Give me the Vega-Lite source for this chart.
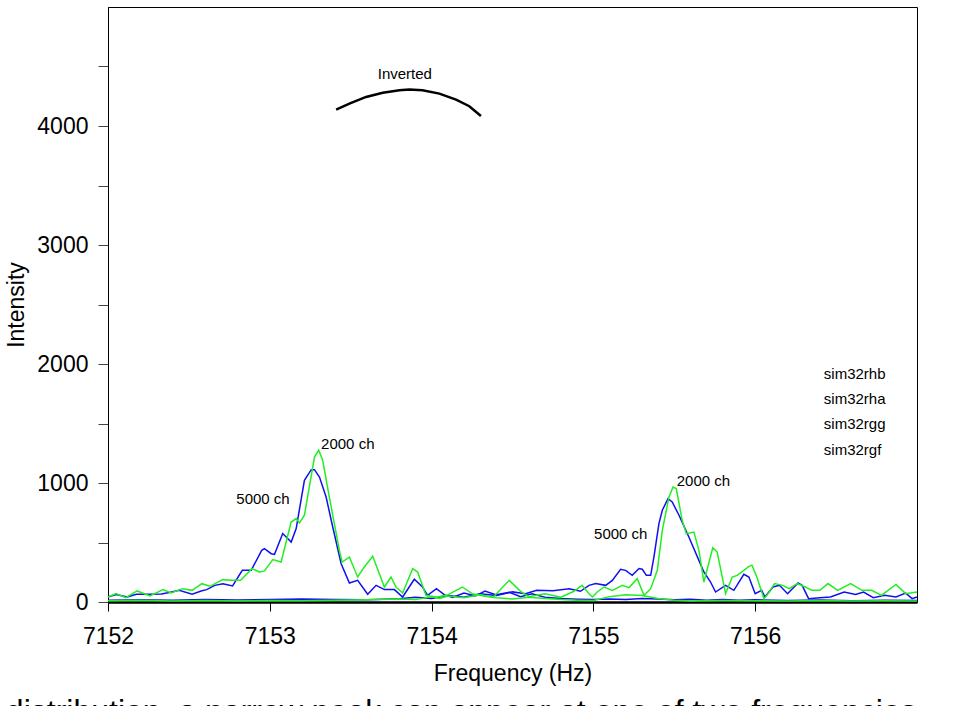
{
  "$schema": "https://vega.github.io/schema/vega-lite/v6.json",
  "width": 809,
  "height": 595,
  "autosize": {"type": "none"},
  "padding": {"left": 108, "top": 7, "right": 50, "bottom": 104},
  "background": "white",
  "config": {"font": "Liberation Sans", "view": {"stroke": "black", "strokeWidth": 1}},
  "title": {"text": "distribution, a narrow peak can appear at one of two frequencies", "orient": "bottom", "anchor": "start", "frame": "bounds", "fontSize": 32, "fontWeight": "normal", "color": "black", "offset": 12, "font": "Liberation Sans"},
  "datasets": {
    "spec": [
      {"s":"sim32rhb","f":7152.00,"v":42},{"s":"sim32rhb","f":7152.05,"v":62},{"s":"sim32rhb","f":7152.12,"v":42},{"s":"sim32rhb","f":7152.175,"v":65},{"s":"sim32rhb","f":7152.25,"v":66},{"s":"sim32rhb","f":7152.33,"v":68},{"s":"sim32rhb","f":7152.38,"v":80},{"s":"sim32rhb","f":7152.44,"v":98},{"s":"sim32rhb","f":7152.52,"v":66},{"s":"sim32rhb","f":7152.58,"v":95},{"s":"sim32rhb","f":7152.61,"v":104},{"s":"sim32rhb","f":7152.66,"v":140},{"s":"sim32rhb","f":7152.71,"v":154},{"s":"sim32rhb","f":7152.77,"v":135},{"s":"sim32rhb","f":7152.83,"v":266},{"s":"sim32rhb","f":7152.885,"v":266},{"s":"sim32rhb","f":7152.95,"v":434},{"s":"sim32rhb","f":7152.967,"v":448},{"s":"sim32rhb","f":7153.009,"v":406},{"s":"sim32rhb","f":7153.029,"v":400},{"s":"sim32rhb","f":7153.08,"v":575},{"s":"sim32rhb","f":7153.132,"v":504},{"s":"sim32rhb","f":7153.163,"v":617},{"s":"sim32rhb","f":7153.214,"v":1023},{"s":"sim32rhb","f":7153.256,"v":1112},{"s":"sim32rhb","f":7153.276,"v":1112},{"s":"sim32rhb","f":7153.307,"v":1050},{"s":"sim32rhb","f":7153.348,"v":882},{"s":"sim32rhb","f":7153.389,"v":630},{"s":"sim32rhb","f":7153.441,"v":322},{"s":"sim32rhb","f":7153.492,"v":160},{"s":"sim32rhb","f":7153.543,"v":182},{"s":"sim32rhb","f":7153.605,"v":65},{"s":"sim32rhb","f":7153.657,"v":140},{"s":"sim32rhb","f":7153.708,"v":104},{"s":"sim32rhb","f":7153.77,"v":104},{"s":"sim32rhb","f":7153.821,"v":42},{"s":"sim32rhb","f":7153.893,"v":191},{"s":"sim32rhb","f":7153.944,"v":126},{"s":"sim32rhb","f":7153.975,"v":56},{"s":"sim32rhb","f":7154.03,"v":112},{"s":"sim32rhb","f":7154.08,"v":60},{"s":"sim32rhb","f":7154.13,"v":38},{"s":"sim32rhb","f":7154.2,"v":75},{"s":"sim32rhb","f":7154.27,"v":50},{"s":"sim32rhb","f":7154.33,"v":92},{"s":"sim32rhb","f":7154.4,"v":60},{"s":"sim32rhb","f":7154.48,"v":82},{"s":"sim32rhb","f":7154.55,"v":45},{"s":"sim32rhb","f":7154.62,"v":70},{"s":"sim32rhb","f":7154.7,"v":40},{"s":"sim32rhb","f":7154.8,"v":30},{"s":"sim32rhb","f":7154.9,"v":24},{"s":"sim32rhb","f":7155.0,"v":20},{"s":"sim32rhb","f":7155.1,"v":26},{"s":"sim32rhb","f":7155.2,"v":22},{"s":"sim32rhb","f":7155.3,"v":30},{"s":"sim32rhb","f":7155.4,"v":25},{"s":"sim32rhb","f":7155.5,"v":18},{"s":"sim32rhb","f":7155.6,"v":24},{"s":"sim32rhb","f":7155.7,"v":15},{"s":"sim32rhb","f":7155.8,"v":20},{"s":"sim32rhb","f":7155.9,"v":14},{"s":"sim32rhb","f":7156.0,"v":18},{"s":"sim32rhb","f":7156.2,"v":12},{"s":"sim32rhb","f":7156.4,"v":16},{"s":"sim32rhb","f":7156.6,"v":10},{"s":"sim32rhb","f":7156.8,"v":14},{"s":"sim32rhb","f":7157.0,"v":12},

      {"s":"sim32rha","f":7152.0,"v":15},{"s":"sim32rha","f":7152.2,"v":18},{"s":"sim32rha","f":7152.4,"v":14},{"s":"sim32rha","f":7152.6,"v":20},{"s":"sim32rha","f":7152.8,"v":16},{"s":"sim32rha","f":7153.0,"v":22},{"s":"sim32rha","f":7153.2,"v":25},{"s":"sim32rha","f":7153.4,"v":20},{"s":"sim32rha","f":7153.6,"v":18},{"s":"sim32rha","f":7153.8,"v":28},{"s":"sim32rha","f":7153.9,"v":40},{"s":"sim32rha","f":7154.0,"v":30},{"s":"sim32rha","f":7154.1,"v":55},{"s":"sim32rha","f":7154.2,"v":40},{"s":"sim32rha","f":7154.3,"v":70},{"s":"sim32rha","f":7154.4,"v":55},{"s":"sim32rha","f":7154.5,"v":85},{"s":"sim32rha","f":7154.58,"v":70},{"s":"sim32rha","f":7154.65,"v":98},{"s":"sim32rha","f":7154.75,"v":95},{"s":"sim32rha","f":7154.85,"v":112},{"s":"sim32rha","f":7154.92,"v":90},{"s":"sim32rha","f":7154.973,"v":140},{"s":"sim32rha","f":7155.014,"v":155},{"s":"sim32rha","f":7155.076,"v":140},{"s":"sim32rha","f":7155.117,"v":182},{"s":"sim32rha","f":7155.168,"v":275},{"s":"sim32rha","f":7155.199,"v":266},{"s":"sim32rha","f":7155.24,"v":224},{"s":"sim32rha","f":7155.282,"v":281},{"s":"sim32rha","f":7155.302,"v":275},{"s":"sim32rha","f":7155.327,"v":224},{"s":"sim32rha","f":7155.354,"v":224},{"s":"sim32rha","f":7155.374,"v":378},{"s":"sim32rha","f":7155.405,"v":659},{"s":"sim32rha","f":7155.426,"v":771},{"s":"sim32rha","f":7155.461,"v":869},{"s":"sim32rha","f":7155.487,"v":841},{"s":"sim32rha","f":7155.529,"v":729},{"s":"sim32rha","f":7155.59,"v":546},{"s":"sim32rha","f":7155.652,"v":350},{"s":"sim32rha","f":7155.683,"v":252},{"s":"sim32rha","f":7155.724,"v":168},{"s":"sim32rha","f":7155.755,"v":84},{"s":"sim32rha","f":7155.817,"v":140},{"s":"sim32rha","f":7155.868,"v":98},{"s":"sim32rha","f":7155.93,"v":233},{"s":"sim32rha","f":7155.961,"v":210},{"s":"sim32rha","f":7156.0,"v":70},{"s":"sim32rha","f":7156.04,"v":98},{"s":"sim32rha","f":7156.06,"v":42},{"s":"sim32rha","f":7156.11,"v":126},{"s":"sim32rha","f":7156.15,"v":140},{"s":"sim32rha","f":7156.2,"v":70},{"s":"sim32rha","f":7156.265,"v":160},{"s":"sim32rha","f":7156.29,"v":140},{"s":"sim32rha","f":7156.33,"v":28},{"s":"sim32rha","f":7156.4,"v":36},{"s":"sim32rha","f":7156.465,"v":42},{"s":"sim32rha","f":7156.55,"v":84},{"s":"sim32rha","f":7156.62,"v":64},{"s":"sim32rha","f":7156.67,"v":84},{"s":"sim32rha","f":7156.73,"v":36},{"s":"sim32rha","f":7156.8,"v":56},{"s":"sim32rha","f":7156.87,"v":42},{"s":"sim32rha","f":7156.93,"v":75},{"s":"sim32rha","f":7156.97,"v":28},{"s":"sim32rha","f":7157.0,"v":42},

      {"s":"sim32rgg","f":7152.0,"v":42},{"s":"sim32rgg","f":7152.05,"v":70},{"s":"sim32rgg","f":7152.11,"v":37},{"s":"sim32rgg","f":7152.18,"v":93},{"s":"sim32rgg","f":7152.26,"v":51},{"s":"sim32rgg","f":7152.34,"v":104},{"s":"sim32rgg","f":7152.39,"v":76},{"s":"sim32rgg","f":7152.46,"v":112},{"s":"sim32rgg","f":7152.52,"v":98},{"s":"sim32rgg","f":7152.58,"v":154},{"s":"sim32rgg","f":7152.63,"v":132},{"s":"sim32rgg","f":7152.71,"v":188},{"s":"sim32rgg","f":7152.76,"v":182},{"s":"sim32rgg","f":7152.82,"v":182},{"s":"sim32rgg","f":7152.89,"v":280},{"s":"sim32rgg","f":7152.936,"v":252},{"s":"sim32rgg","f":7152.967,"v":261},{"s":"sim32rgg","f":7153.019,"v":356},{"s":"sim32rgg","f":7153.07,"v":336},{"s":"sim32rgg","f":7153.132,"v":672},{"s":"sim32rgg","f":7153.163,"v":701},{"s":"sim32rgg","f":7153.183,"v":664},{"s":"sim32rgg","f":7153.214,"v":729},{"s":"sim32rgg","f":7153.276,"v":1218},{"s":"sim32rgg","f":7153.302,"v":1275},{"s":"sim32rgg","f":7153.327,"v":1191},{"s":"sim32rgg","f":7153.368,"v":882},{"s":"sim32rgg","f":7153.43,"v":434},{"s":"sim32rgg","f":7153.447,"v":336},{"s":"sim32rgg","f":7153.492,"v":378},{"s":"sim32rgg","f":7153.543,"v":210},{"s":"sim32rgg","f":7153.584,"v":294},{"s":"sim32rgg","f":7153.636,"v":384},{"s":"sim32rgg","f":7153.677,"v":238},{"s":"sim32rgg","f":7153.708,"v":126},{"s":"sim32rgg","f":7153.749,"v":210},{"s":"sim32rgg","f":7153.78,"v":126},{"s":"sim32rgg","f":7153.821,"v":76},{"s":"sim32rgg","f":7153.883,"v":280},{"s":"sim32rgg","f":7153.914,"v":252},{"s":"sim32rgg","f":7153.965,"v":56},{"s":"sim32rgg","f":7154.03,"v":40},{"s":"sim32rgg","f":7154.1,"v":60},{"s":"sim32rgg","f":7154.19,"v":126},{"s":"sim32rgg","f":7154.25,"v":70},{"s":"sim32rgg","f":7154.32,"v":50},{"s":"sim32rgg","f":7154.4,"v":35},{"s":"sim32rgg","f":7154.5,"v":25},{"s":"sim32rgg","f":7154.6,"v":40},{"s":"sim32rgg","f":7154.7,"v":30},{"s":"sim32rgg","f":7154.8,"v":20},{"s":"sim32rgg","f":7154.9,"v":15},{"s":"sim32rgg","f":7155.0,"v":12},{"s":"sim32rgg","f":7155.1,"v":45},{"s":"sim32rgg","f":7155.2,"v":60},{"s":"sim32rgg","f":7155.3,"v":55},{"s":"sim32rgg","f":7155.4,"v":30},{"s":"sim32rgg","f":7155.5,"v":14},{"s":"sim32rgg","f":7155.6,"v":8},{"s":"sim32rgg","f":7155.8,"v":12},{"s":"sim32rgg","f":7156.0,"v":10},{"s":"sim32rgg","f":7156.2,"v":8},{"s":"sim32rgg","f":7156.4,"v":12},{"s":"sim32rgg","f":7156.6,"v":9},{"s":"sim32rgg","f":7156.8,"v":11},{"s":"sim32rgg","f":7157.0,"v":8},

      {"s":"sim32rgf","f":7152.0,"v":10},{"s":"sim32rgf","f":7152.2,"v":14},{"s":"sim32rgf","f":7152.4,"v":8},{"s":"sim32rgf","f":7152.6,"v":12},{"s":"sim32rgf","f":7152.8,"v":9},{"s":"sim32rgf","f":7153.0,"v":13},{"s":"sim32rgf","f":7153.2,"v":10},{"s":"sim32rgf","f":7153.4,"v":14},{"s":"sim32rgf","f":7153.6,"v":18},{"s":"sim32rgf","f":7153.8,"v":25},{"s":"sim32rgf","f":7153.9,"v":20},{"s":"sim32rgf","f":7154.0,"v":45},{"s":"sim32rgf","f":7154.05,"v":30},{"s":"sim32rgf","f":7154.1,"v":50},{"s":"sim32rgf","f":7154.2,"v":35},{"s":"sim32rgf","f":7154.3,"v":60},{"s":"sim32rgf","f":7154.38,"v":40},{"s":"sim32rgf","f":7154.48,"v":182},{"s":"sim32rgf","f":7154.55,"v":90},{"s":"sim32rgf","f":7154.6,"v":45},{"s":"sim32rgf","f":7154.7,"v":70},{"s":"sim32rgf","f":7154.8,"v":40},{"s":"sim32rgf","f":7154.88,"v":90},{"s":"sim32rgf","f":7154.93,"v":140},{"s":"sim32rgf","f":7154.973,"v":70},{"s":"sim32rgf","f":7154.994,"v":42},{"s":"sim32rgf","f":7155.024,"v":84},{"s":"sim32rgf","f":7155.066,"v":126},{"s":"sim32rgf","f":7155.117,"v":98},{"s":"sim32rgf","f":7155.179,"v":140},{"s":"sim32rgf","f":7155.22,"v":121},{"s":"sim32rgf","f":7155.271,"v":196},{"s":"sim32rgf","f":7155.313,"v":56},{"s":"sim32rgf","f":7155.354,"v":112},{"s":"sim32rgf","f":7155.395,"v":266},{"s":"sim32rgf","f":7155.426,"v":602},{"s":"sim32rgf","f":7155.467,"v":882},{"s":"sim32rgf","f":7155.492,"v":966},{"s":"sim32rgf","f":7155.512,"v":953},{"s":"sim32rgf","f":7155.549,"v":686},{"s":"sim32rgf","f":7155.574,"v":574},{"s":"sim32rgf","f":7155.621,"v":588},{"s":"sim32rgf","f":7155.652,"v":434},{"s":"sim32rgf","f":7155.683,"v":168},{"s":"sim32rgf","f":7155.738,"v":457},{"s":"sim32rgf","f":7155.765,"v":420},{"s":"sim32rgf","f":7155.817,"v":70},{"s":"sim32rgf","f":7155.858,"v":210},{"s":"sim32rgf","f":7155.889,"v":224},{"s":"sim32rgf","f":7155.93,"v":266},{"s":"sim32rgf","f":7155.961,"v":300},{"s":"sim32rgf","f":7155.98,"v":310},{"s":"sim32rgf","f":7156.01,"v":210},{"s":"sim32rgf","f":7156.054,"v":28},{"s":"sim32rgf","f":7156.08,"v":70},{"s":"sim32rgf","f":7156.12,"v":155},{"s":"sim32rgf","f":7156.17,"v":140},{"s":"sim32rgf","f":7156.21,"v":112},{"s":"sim32rgf","f":7156.26,"v":155},{"s":"sim32rgf","f":7156.31,"v":126},{"s":"sim32rgf","f":7156.35,"v":98},{"s":"sim32rgf","f":7156.4,"v":98},{"s":"sim32rgf","f":7156.45,"v":155},{"s":"sim32rgf","f":7156.51,"v":98},{"s":"sim32rgf","f":7156.59,"v":155},{"s":"sim32rgf","f":7156.66,"v":98},{"s":"sim32rgf","f":7156.72,"v":98},{"s":"sim32rgf","f":7156.78,"v":56},{"s":"sim32rgf","f":7156.87,"v":147},{"s":"sim32rgf","f":7156.93,"v":70},{"s":"sim32rgf","f":7157.0,"v":84}
    ],
    "arc": [
      {"f":7153.41,"v":4138},{"f":7153.492,"v":4188},{"f":7153.595,"v":4244},{"f":7153.698,"v":4280},{"f":7153.801,"v":4300},{"f":7153.862,"v":4306},{"f":7153.944,"v":4300},{"f":7154.048,"v":4272},{"f":7154.151,"v":4222},{"f":7154.233,"v":4166},{"f":7154.305,"v":4084}
    ],
    "notes": [
      {"f":7153.667,"v":4398,"t":"Inverted"},
      {"f":7152.793,"v":827,"t":"5000 ch"},
      {"f":7153.317,"v":1289,"t":"2000 ch"},
      {"f":7155.004,"v":527,"t":"5000 ch"},
      {"f":7155.515,"v":972,"t":"2000 ch"},
      {"f":7156.424,"v":1877,"t":"sim32rhb"},
      {"f":7156.424,"v":1667,"t":"sim32rha"},
      {"f":7156.424,"v":1451,"t":"sim32rgg"},
      {"f":7156.424,"v":1239,"t":"sim32rgf"}
    ]
  },
  "encoding": {
    "x": {"field": "f", "type": "quantitative", "scale": {"domain": [7152, 7157], "nice": false, "zero": false},
      "axis": {"values": [7152, 7153, 7154, 7155, 7156], "format": "d", "tickSize": 9, "labelPadding": 14, "labelFontSize": 23, "labelColor": "black", "title": "Frequency (Hz)", "titleFontSize": 23, "titleFontWeight": "normal", "titleColor": "black", "titlePadding": 14, "domainWidth": 2.5, "domainColor": "black", "tickColor": "black", "grid": false, "labelFlush": false}},
    "y": {"field": "v", "type": "quantitative", "scale": {"domain": [0, 5000], "nice": false},
      "axis": {"values": [0, 500, 1000, 1500, 2000, 2500, 3000, 3500, 4000, 4500], "labelExpr": "datum.value % 1000 == 0 ? datum.label : ''", "format": "d", "tickSize": 10, "labelPadding": 10, "labelFontSize": 23, "labelColor": "black", "title": "Intensity", "titleFontSize": 23, "titleFontWeight": "normal", "titleColor": "black", "titlePadding": 8, "domainColor": "black", "tickColor": "#444444", "grid": false, "labelFlush": false}}
  },
  "layer": [
    {
      "data": {"name": "spec"},
      "mark": {"type": "line", "strokeWidth": 1.5},
      "encoding": {
        "color": {"field": "s", "type": "nominal", "scale": {"domain": ["sim32rgg", "sim32rgf", "sim32rhb", "sim32rha"], "range": ["#22ee22", "#22ee22", "#1010f0", "#1010f0"]}, "legend": null}
      }
    },
    {
      "data": {"name": "arc"},
      "mark": {"type": "line", "strokeWidth": 2.5, "color": "black"},
      "encoding": {}
    },
    {
      "data": {"name": "notes"},
      "mark": {"type": "text", "align": "left", "baseline": "alphabetic", "fontSize": 15, "color": "black"},
      "encoding": {"text": {"field": "t", "type": "nominal"}}
    }
  ]
}
